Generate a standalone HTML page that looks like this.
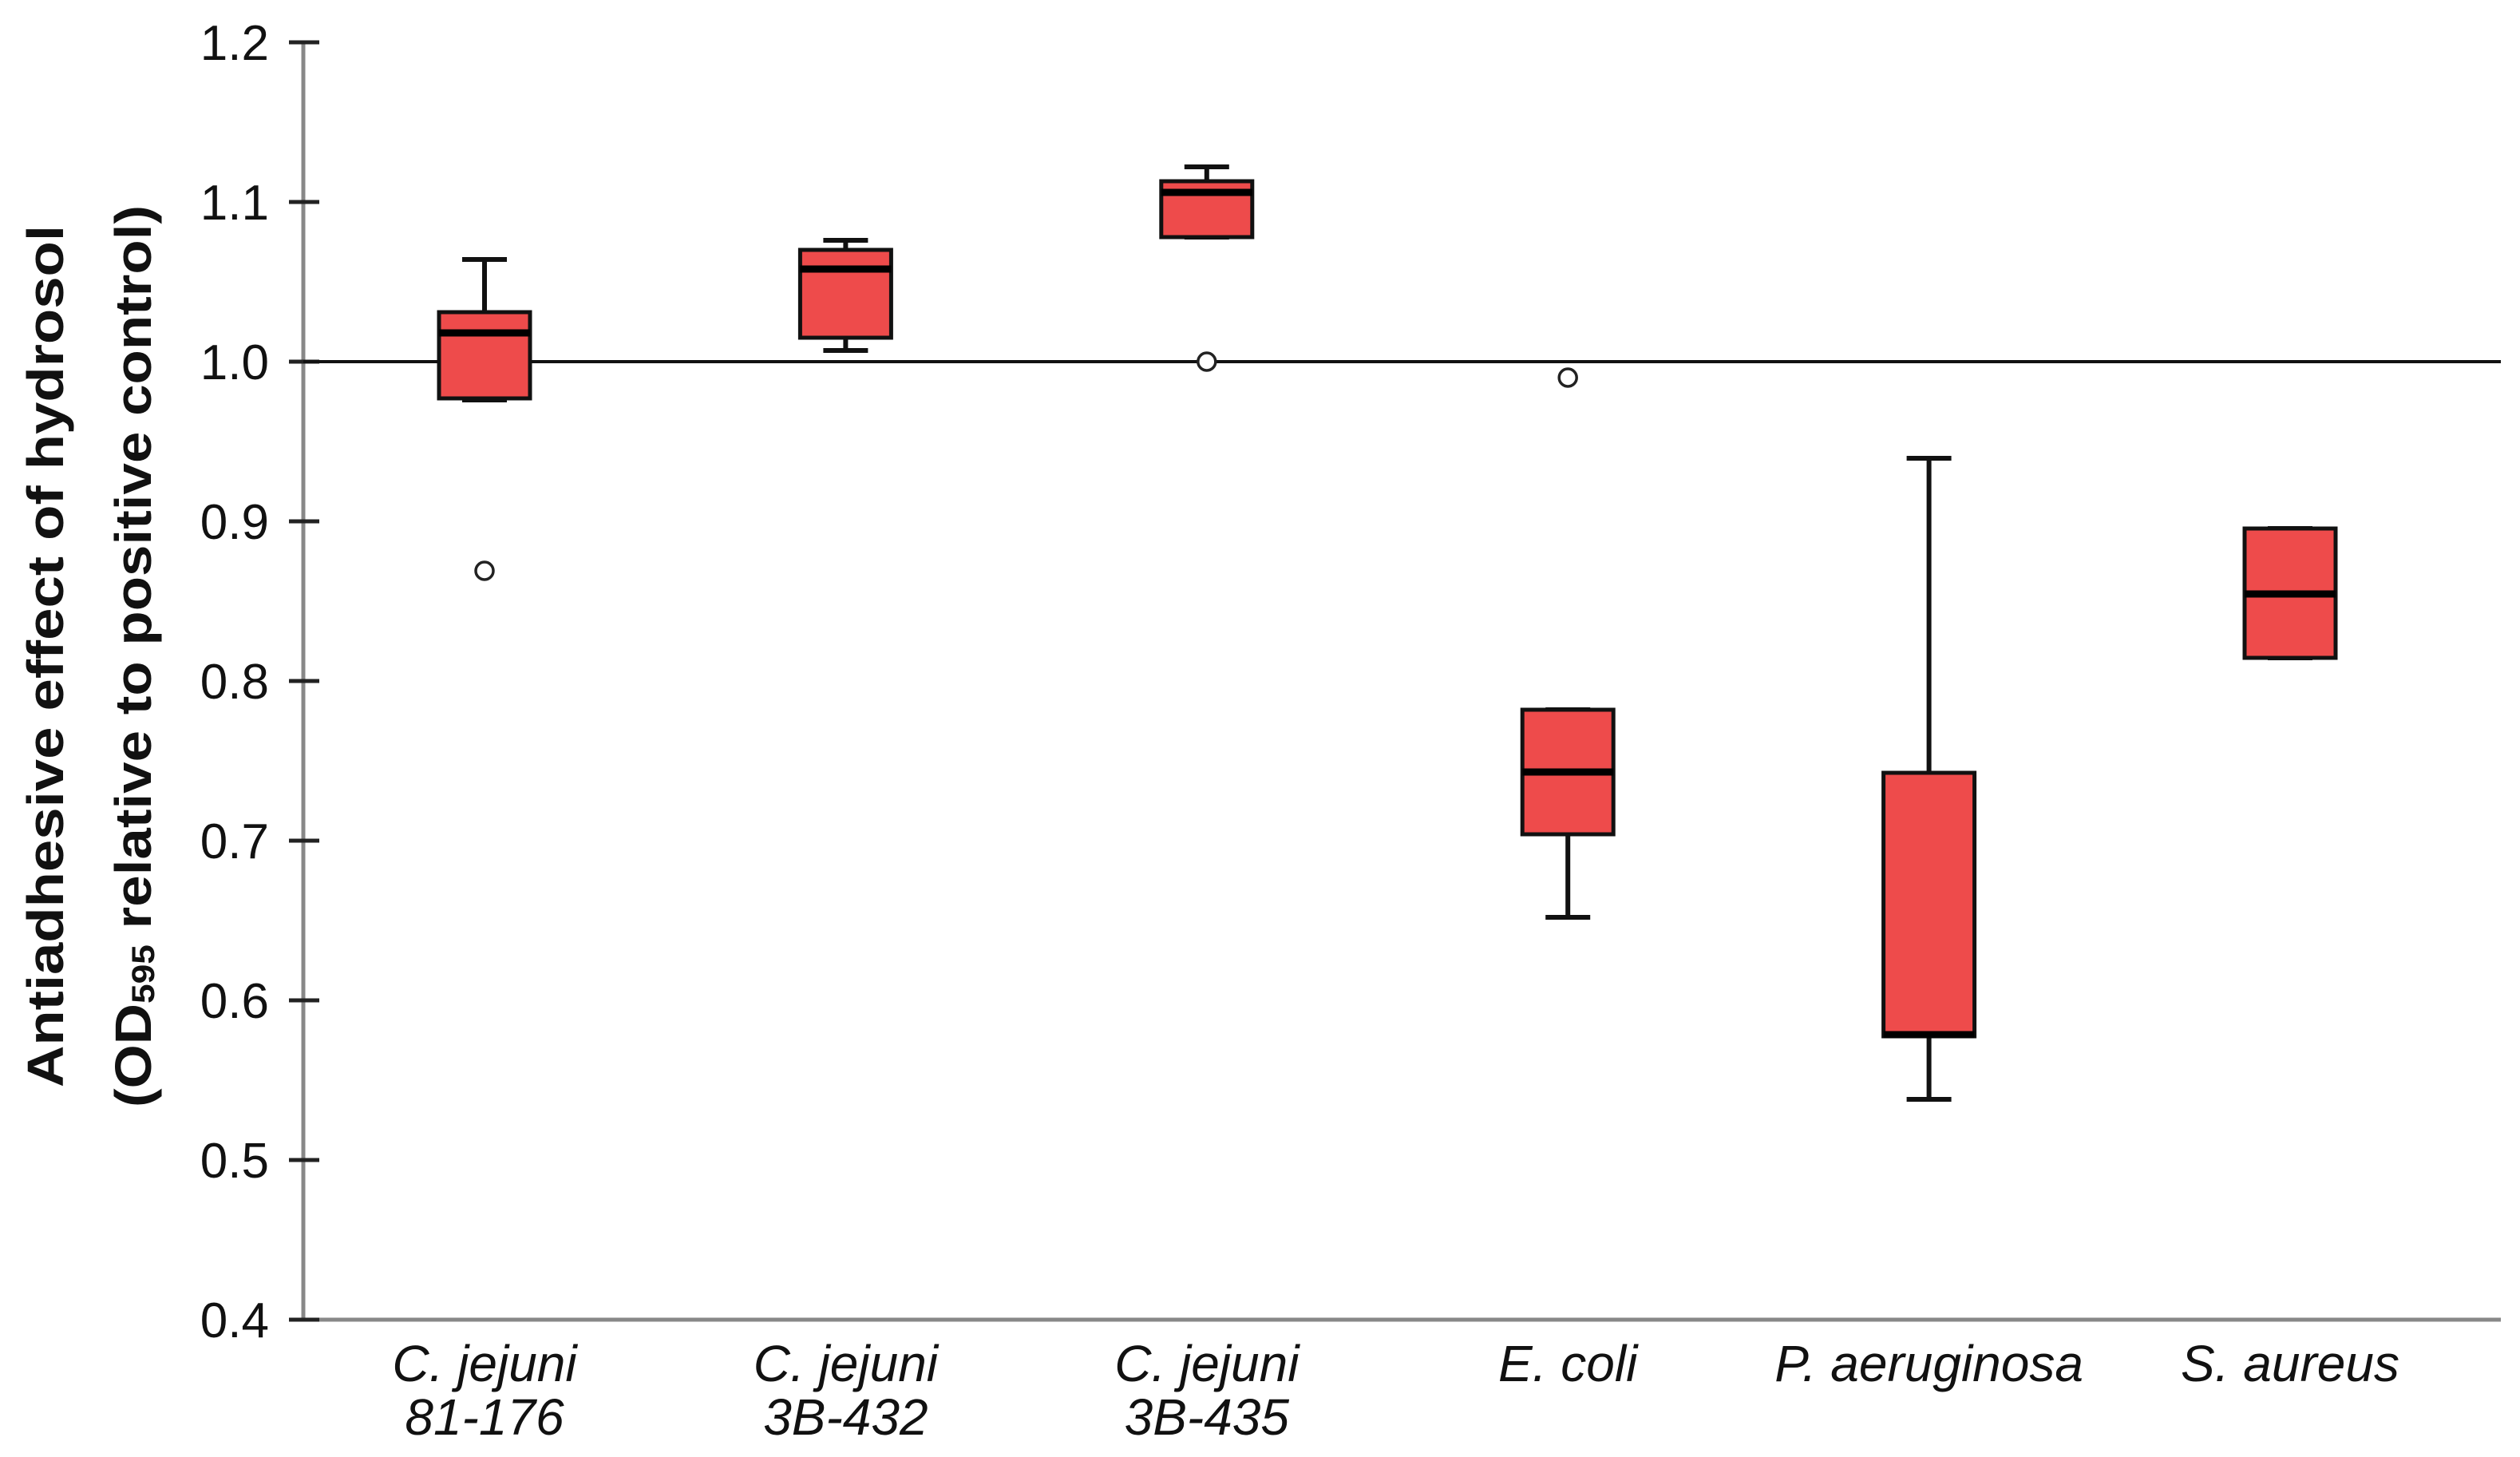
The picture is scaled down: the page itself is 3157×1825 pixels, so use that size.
<!DOCTYPE html>
<html><head><meta charset="utf-8"><style>
html,body{margin:0;padding:0;background:#fff;}
svg{display:block;}
text{font-family:"Liberation Sans Narrow","Liberation Sans",sans-serif;fill:#111;}
</style></head><body>
<svg id="chart" width="3157" height="1825" viewBox="0 0 3157 1825" xmlns="http://www.w3.org/2000/svg">
<g id="axes"></g>
<g id="boxes"></g>
<text transform="translate(62,822) rotate(-90)" text-anchor="middle" dominant-baseline="middle" font-weight="bold" font-size="64" textLength="1080" lengthAdjust="spacingAndGlyphs">Antiadhesive effect of hydrosol</text>
<text transform="translate(172,822) rotate(-90)" text-anchor="middle" dominant-baseline="middle" font-weight="bold" font-size="64" textLength="1130" lengthAdjust="spacingAndGlyphs">(OD<tspan font-size="40" dy="10">595</tspan><tspan dy="-10"> relative to positive control)</tspan></text>
</svg>
<script>
const categories = [["C. jejuni","81-176"],["C. jejuni","3B-432"],["C. jejuni","3B-435"],["E. coli"],["P. aeruginosa"],["S. aureus"]];
const whiskerHigh = [1.064, 1.076, 1.122, 0.782, 0.9395, 0.8955];
const q3 = [1.031, 1.070, 1.113, 0.782, 0.7425, 0.8955];
const median = [1.018, 1.058, 1.106, 0.743, 0.5785, 0.8545];
const q1 = [0.977, 1.015, 1.078, 0.704, 0.5775, 0.8145];
const whiskerLow = [0.976, 1.007, 1.078, 0.652, 0.538, 0.8145];
const outliers = [[0.869], [], [1.0], [0.99], [], []];
const yTicks = [0.4, 0.5, 0.6, 0.7, 0.8, 0.9, 1.0, 1.1, 1.2];
const yTickLabels = ["0.4","0.5","0.6","0.7","0.8","0.9","1.0","1.1","1.2"];
const refValue = 1.0;

const NS = "http://www.w3.org/2000/svg";
const X0 = 607, DX = 452.4, AXX = 380, AXR = 3133;
function y(v){ return 453 - (v - 1) * 2000; }
function x(i){ return X0 + i * DX; }
function mk(parent, tag, attrs){
  const e = document.createElementNS(NS, tag);
  for (const k in attrs) e.setAttribute(k, attrs[k]);
  parent.appendChild(e);
  return e;
}
const axes = document.getElementById('axes');
const boxes = document.getElementById('boxes');

let l = mk(axes,'line',{x1:AXX,y1:y(1.2),x2:AXX,y2:y(0.4),stroke:'#888','stroke-width':5});


l = mk(axes,'line',{x1:AXX,y1:y(0.4),x2:AXR,y2:y(0.4),stroke:'#888','stroke-width':5});


yTicks.forEach((v,i)=>{
  const t = mk(axes,'line',{x1:362,y1:y(v),x2:400,y2:y(v),stroke:'#222','stroke-width':5});
  
  
  const tx = mk(axes,'text',{x:337,y:y(v)+22,'text-anchor':'end','font-size':62});
  tx.textContent = yTickLabels[i];
  
  
});
l = mk(axes,'line',{x1:AXX,y1:y(refValue),x2:AXR,y2:y(refValue),stroke:'#111','stroke-width':4});



categories.forEach((c,i)=>{
  c.forEach((line,j)=>{
    const t = mk(axes,'text',{x:x(i),y:1730+j*67,'text-anchor':'middle','font-size':64,'font-style':'italic'});
    t.textContent = line;
    
    
  });
  const g = mk(boxes,'g',{});
  
  
  const cx = x(i), hw = 57, cw = 28;
  mk(g,'line',{x1:cx,y1:y(whiskerHigh[i]),x2:cx,y2:y(q3[i]),stroke:'#111','stroke-width':6});
  mk(g,'line',{x1:cx,y1:y(q1[i]),x2:cx,y2:y(whiskerLow[i]),stroke:'#111','stroke-width':6});
  mk(g,'line',{x1:cx-cw,y1:y(whiskerHigh[i]),x2:cx+cw,y2:y(whiskerHigh[i]),stroke:'#111','stroke-width':6});
  mk(g,'line',{x1:cx-cw,y1:y(whiskerLow[i]),x2:cx+cw,y2:y(whiskerLow[i]),stroke:'#111','stroke-width':6});
  const r = mk(g,'rect',{x:cx-hw,y:y(q3[i]),width:2*hw,height:Math.max(1,y(q1[i])-y(q3[i])),fill:'#EE4B4B',stroke:'#111','stroke-width':5});
  
  
  const m = mk(g,'line',{x1:cx-hw,y1:y(median[i]),x2:cx+hw,y2:y(median[i]),stroke:'#000','stroke-width':9});
  
  
  outliers[i].forEach(o=>{
    const ci = mk(g,'circle',{cx:cx,cy:y(o),r:11,fill:'#fff',stroke:'#222','stroke-width':3.5});
    
    
  });
});
</script>
</body></html>
